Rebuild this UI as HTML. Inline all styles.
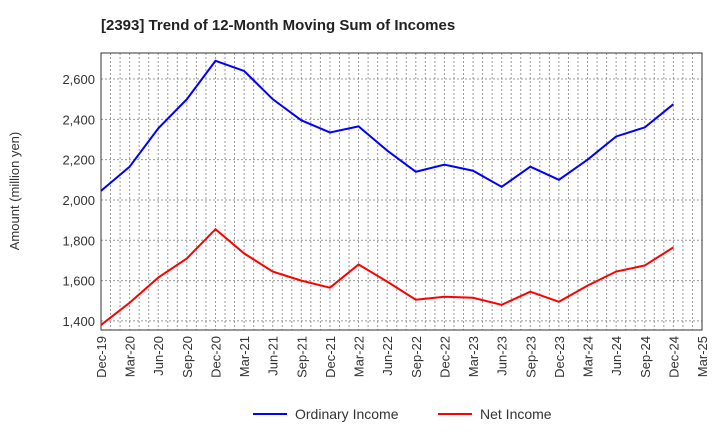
<!DOCTYPE html>
<html><head><meta charset="utf-8"><style>
body{margin:0;background:#fff;font-family:"Liberation Sans",sans-serif;}
</style></head><body>
<svg id="c" width="720" height="440" xmlns="http://www.w3.org/2000/svg">
<text x="101" y="30" font-size="15" font-weight="bold" fill="#222">[2393]  Trend of 12-Month Moving Sum of Incomes</text>
<text transform="translate(19,191) rotate(-90)" text-anchor="middle" font-size="13" fill="#333">Amount (million yen)</text>
<g id="grid"></g><g id="axes"></g><g id="series"></g>
<g>
<line x1="253" y1="414" x2="287" y2="414" stroke="#0000ff" stroke-width="2"/>
<text x="295" y="419" font-size="14" fill="#333">Ordinary Income</text>
<line x1="438" y1="414" x2="472" y2="414" stroke="#ff0000" stroke-width="2"/>
<text x="480" y="419" font-size="14" fill="#333">Net Income</text>
</g>
</svg>
<script>
const categories=["Dec-19","Mar-20","Jun-20","Sep-20","Dec-20","Mar-21","Jun-21","Sep-21","Dec-21","Mar-22","Jun-22","Sep-22","Dec-22","Mar-23","Jun-23","Sep-23","Dec-23","Mar-24","Jun-24","Sep-24","Dec-24","Mar-25"];
const ordinaryIncome=[2045,2165,2355,2500,2690,2640,2500,2395,2335,2365,2245,2140,2175,2145,2065,2165,2100,2200,2315,2360,2475];
const netIncome=[1380,1490,1615,1710,1855,1735,1645,1600,1565,1680,1595,1505,1520,1515,1480,1545,1495,1575,1645,1675,1765];
const yTicks=[1400,1600,1800,2000,2200,2400,2600];
const L=101,R=702,T=53,B=330;
const yMin=1355,yMax=2729;
const x=i=>L+(R-L)*i/(categories.length-1);
const y=v=>B-(v-yMin)/(yMax-yMin)*(B-T);
const NS="http://www.w3.org/2000/svg";
function mk(tag,attrs,parent){const e=document.createElementNS(NS,tag);for(const k in attrs)e.setAttribute(k,attrs[k]);document.getElementById(parent).appendChild(e);return e;}
for(let m=1;m<(categories.length-1)*3;m++){const xx=L+(R-L)*m/((categories.length-1)*3);
const g=mk("line",{x1:xx,x2:xx,y1:T,y2:B,stroke:"#999","stroke-dasharray":"2,2","stroke-width":1},"grid");
}
yTicks.forEach(v=>{const g=mk("line",{x1:L,x2:R,y1:y(v),y2:y(v),stroke:"#999","stroke-dasharray":"2,2"},"grid");

const t=mk("text",{x:L-6,y:y(v)+5,"text-anchor":"end","font-size":13,fill:"#333"},"axes");t.textContent=v.toLocaleString("en-US");
});
const fr=mk("rect",{x:L,y:T,width:R-L,height:B-T,fill:"none",stroke:"#333"},"axes");

categories.forEach((c,i)=>{const t=mk("text",{transform:`translate(${x(i)+5},${B+6}) rotate(-90)`,"text-anchor":"end","font-size":13,fill:"#333"},"axes");t.textContent=c;
});
function line(d,col,name){const p=mk("polyline",{points:d.map((v,i)=>x(i)+","+y(v)).join(" "),fill:"none",stroke:col,"stroke-width":2},"series");
}
line(ordinaryIncome,"#0000ff","ordinary-income-line");
line(netIncome,"#ff0000","net-income-line");
</script>
</body></html>
